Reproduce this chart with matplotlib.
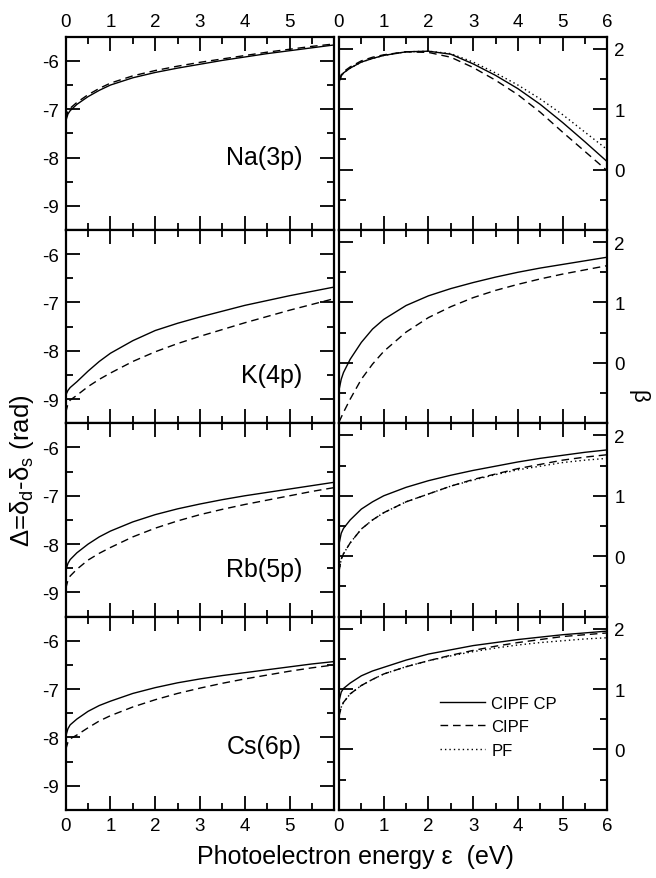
import matplotlib
matplotlib.use("Agg")
import matplotlib.pyplot as plt
from matplotlib.ticker import MultipleLocator

plt.rcParams['font.family'] = ['Liberation Sans', 'DejaVu Sans']
plt.rcParams['mathtext.fontset'] = 'custom'
plt.rcParams['mathtext.rm'] = 'Liberation Sans'
plt.rcParams['mathtext.it'] = 'Liberation Sans:italic'

# ---------------- data ----------------
E = [0, 0.05, 0.1, 0.25, 0.5, 0.75, 1, 1.5, 2, 2.5, 3, 3.5, 4, 4.5, 5, 5.5, 6]

atoms = ["Na(3p)", "K(4p)", "Rb(5p)", "Cs(6p)"]

# Delta = delta_d - delta_s (rad)
na_delta_cipfcp = [-7.25, -7.10, -7.03, -6.90, -6.74, -6.61, -6.50, -6.35, -6.24, -6.15, -6.07, -5.99, -5.92, -5.85, -5.79, -5.73, -5.67]
na_delta_cipf   = [-7.20, -7.05, -6.98, -6.86, -6.70, -6.57, -6.46, -6.31, -6.20, -6.11, -6.03, -5.96, -5.89, -5.82, -5.76, -5.70, -5.65]
k_delta_cipfcp  = [-8.92, -8.82, -8.76, -8.64, -8.42, -8.22, -8.05, -7.79, -7.58, -7.43, -7.30, -7.18, -7.06, -6.96, -6.86, -6.77, -6.68]
k_delta_cipf    = [-9.28, -9.10, -9.02, -8.92, -8.74, -8.59, -8.46, -8.22, -8.02, -7.85, -7.70, -7.56, -7.42, -7.29, -7.16, -7.04, -6.92]
rb_delta_cipfcp = [-8.55, -8.40, -8.32, -8.18, -8.00, -7.85, -7.73, -7.54, -7.39, -7.27, -7.17, -7.08, -7.00, -6.93, -6.86, -6.79, -6.72]
rb_delta_cipf   = [-8.92, -8.75, -8.66, -8.52, -8.33, -8.19, -8.07, -7.85, -7.67, -7.52, -7.39, -7.28, -7.18, -7.09, -7.00, -6.91, -6.83]
cs_delta_cipfcp = [-7.98, -7.82, -7.74, -7.62, -7.46, -7.34, -7.25, -7.09, -6.97, -6.87, -6.79, -6.72, -6.66, -6.60, -6.54, -6.48, -6.43]
cs_delta_cipf   = [-8.25, -8.10, -8.03, -7.95, -7.80, -7.66, -7.55, -7.37, -7.22, -7.09, -6.98, -6.88, -6.79, -6.71, -6.63, -6.56, -6.50]

# beta
na_beta_cipfcp = [1.45, 1.55, 1.60, 1.68, 1.78, 1.84, 1.89, 1.95, 1.96, 1.91, 1.75, 1.56, 1.34, 1.08, 0.78, 0.46, 0.13]
na_beta_cipf   = [1.47, 1.57, 1.62, 1.70, 1.80, 1.86, 1.90, 1.95, 1.94, 1.86, 1.69, 1.48, 1.24, 0.95, 0.62, 0.30, -0.02]
na_beta_pf     = [1.45, 1.55, 1.60, 1.68, 1.78, 1.84, 1.89, 1.95, 1.96, 1.92, 1.78, 1.60, 1.40, 1.17, 0.91, 0.62, 0.33]
k_beta_cipfcp  = [-0.45, -0.27, -0.16, 0.06, 0.34, 0.56, 0.72, 0.95, 1.11, 1.23, 1.33, 1.42, 1.50, 1.57, 1.63, 1.69, 1.75]
k_beta_cipf    = [-0.98, -0.90, -0.82, -0.60, -0.27, -0.02, 0.19, 0.51, 0.75, 0.93, 1.08, 1.20, 1.30, 1.39, 1.47, 1.54, 1.61]
rb_beta_cipfcp = [0.20, 0.38, 0.46, 0.60, 0.78, 0.90, 1.00, 1.14, 1.25, 1.34, 1.42, 1.49, 1.56, 1.62, 1.67, 1.72, 1.76]
rb_beta_cipf   = [-0.25, -0.05, 0.04, 0.22, 0.45, 0.60, 0.72, 0.90, 1.03, 1.16, 1.27, 1.36, 1.45, 1.52, 1.59, 1.64, 1.68]
rb_beta_pf     = [-0.25, -0.05, 0.04, 0.22, 0.45, 0.60, 0.72, 0.90, 1.03, 1.16, 1.26, 1.35, 1.43, 1.49, 1.55, 1.59, 1.62]
cs_beta_cipfcp = [0.80, 0.95, 1.01, 1.10, 1.22, 1.30, 1.36, 1.48, 1.58, 1.65, 1.72, 1.77, 1.82, 1.86, 1.90, 1.93, 1.96]
cs_beta_cipf   = [0.55, 0.70, 0.78, 0.92, 1.06, 1.16, 1.25, 1.37, 1.47, 1.56, 1.64, 1.71, 1.77, 1.82, 1.87, 1.90, 1.93]
cs_beta_pf     = [0.55, 0.70, 0.78, 0.92, 1.06, 1.16, 1.25, 1.37, 1.47, 1.55, 1.62, 1.68, 1.73, 1.77, 1.80, 1.83, 1.85]

delta_sets = [(na_delta_cipfcp, na_delta_cipf), (k_delta_cipfcp, k_delta_cipf),
              (rb_delta_cipfcp, rb_delta_cipf), (cs_delta_cipfcp, cs_delta_cipf)]
beta_sets = [(na_beta_cipfcp, na_beta_cipf, na_beta_pf), (k_beta_cipfcp, k_beta_cipf, None),
             (rb_beta_cipfcp, rb_beta_cipf, rb_beta_pf), (cs_beta_cipfcp, cs_beta_cipf, cs_beta_pf)]
legend_labels = ["CIPF CP", "CIPF", "PF"]
label_y = [0.38, 0.25, 0.245, 0.33]

# ---------------- layout ----------------
W, H = 656, 879
fig = plt.figure(figsize=(W / 100, H / 100), dpi=100)
top0 = 37.7
rowh = 193.3
lx0, lx1 = 65.7, 334.3
rx0, rx1 = 339.0, 607.3

lw = 1.0
ls_dash = (0, (5.5, 3.5))
ls_dot = (0, (1, 2.2))

def style(ax):
    for s in ax.spines.values():
        s.set_linewidth(1.6)
    ax.tick_params(which='both', direction='in', top=True, bottom=True, left=True, right=True,
                   labelsize=13.5, width=1.3, pad=5)
    ax.tick_params(which='major', length=10)
    ax.tick_params(which='minor', length=5)
    ax.xaxis.set_major_locator(MultipleLocator(1))
    ax.xaxis.set_minor_locator(MultipleLocator(0.5))
    ax.set_xlim(0, 6)

for i in range(4):
    t = top0 + i * rowh
    b = 1 - (t + rowh) / H
    axl = fig.add_axes([lx0 / W, b, (lx1 - lx0) / W, rowh / H])
    axr = fig.add_axes([rx0 / W, b, (rx1 - rx0) / W, rowh / H])
    style(axl)
    style(axr)

    sol, das = delta_sets[i]
    axl.plot(E, sol, color='black', lw=lw, ls='-')
    axl.plot(E, das, color='black', lw=lw, ls=ls_dash)
    axl.set_ylim(-9.5, -5.5)
    axl.yaxis.set_minor_locator(MultipleLocator(0.5))
    axl.set_yticks([-9, -8, -7, -6])
    axl.set_yticklabels(["-9", "-8", "-7", "-6"])
    axl.text(0.88, label_y[i], atoms[i], transform=axl.transAxes, ha='right', va='center', fontsize=18)

    bs, bd, bp = beta_sets[i]
    h1, = axr.plot(E, bs, color='black', lw=lw, ls='-', label=legend_labels[0])
    h2, = axr.plot(E, bd, color='black', lw=lw, ls=ls_dash, label=legend_labels[1])
    if bp is not None:
        h3, = axr.plot(E, bp, color='black', lw=lw, ls=ls_dot, label=legend_labels[2])
    axr.set_ylim(-1.0, 2.2)
    axr.yaxis.set_minor_locator(MultipleLocator(0.5))
    axr.set_yticks([0, 1, 2])
    axr.tick_params(axis='y', labelleft=False, labelright=True)

    for ax, labs in ((axl, ["0", "1", "2", "3", "4", "5", ""]), (axr, ["0", "1", "2", "3", "4", "5", "6"])):
        ax.set_xticks([0, 1, 2, 3, 4, 5, 6])
        ax.set_xticklabels(labs)
        ax.tick_params(axis='x', labeltop=(i == 0), labelbottom=(i == 3))

    if i == 3:
        axr.legend(handles=[h1, h2, h3], loc='upper left', bbox_to_anchor=(0.375, 0.59),
                   frameon=False, fontsize=12, handlelength=2.7, handletextpad=0.4,
                   labelspacing=0.5, borderpad=0, borderaxespad=0)

fig.text(22 / W, 1 - 471 / H, "Δ=δ$_\\mathrm{d}$-δ$_\\mathrm{s}$ (rad)",
         rotation=90, ha='center', va='center', fontsize=18.5)
fig.text(638 / W, 1 - 396 / H, "β", rotation=-90, ha='center', va='center', fontsize=16)
fig.text(355 / W, 1 - 857 / H, "Photoelectron energy ε  (eV)", ha='center', va='center', fontsize=18)

fig.savefig("out.png", dpi=100)
